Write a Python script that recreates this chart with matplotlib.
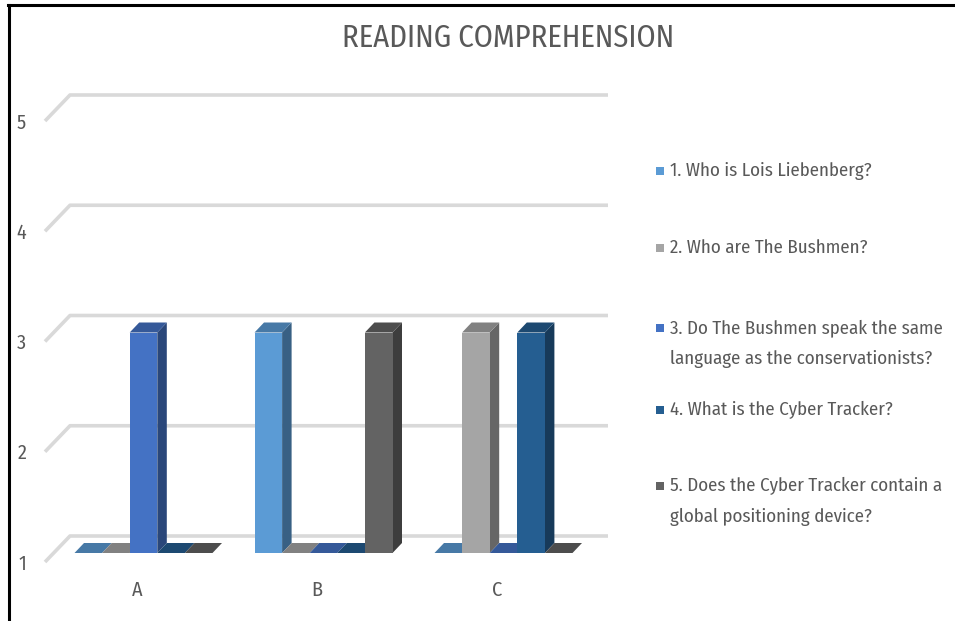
import matplotlib
matplotlib.use("Agg")
import matplotlib.pyplot as plt
from matplotlib.patches import Polygon, Rectangle
from matplotlib.lines import Line2D
from matplotlib import font_manager
import numpy as np

# ---- data -------------------------------------------------------------
categories = ["A", "B", "C"]
series_names = [
    "1. Who is Lois Liebenberg?",
    "2. Who are The Bushmen?",
    "3. Do The Bushmen speak the same\nlanguage as the conservationists?",
    "4. What is the Cyber Tracker?",
    "5. Does the Cyber Tracker contain a\nglobal positioning device?",
]
q1_scores = [1, 3, 1]
q2_scores = [1, 1, 3]
q3_scores = [3, 1, 1]
q4_scores = [1, 1, 3]
q5_scores = [1, 3, 1]
y_ticks = [1, 2, 3, 4, 5]

series_values = [q1_scores, q2_scores, q3_scores, q4_scores, q5_scores]
series_colors = ["#5B9BD5", "#A5A5A5", "#4472C4", "#255E91", "#636363"]

# ---- fonts ------------------------------------------------------------
available = {f.name for f in font_manager.fontManager.ttflist}
main_font = "DejaVu Sans"
for cand in ["Fira Sans Condensed", "PT Sans Narrow", "Roboto Condensed", "Carlito"]:
    if cand in available:
        main_font = cand
        break
plt.rcParams["font.family"] = [main_font, "DejaVu Sans"]
text_color = "#595959"

# ---- figure / axes ----------------------------------------------------
W, H = 955, 621
fig = plt.figure(figsize=(W / 100, H / 100), dpi=100)
ax_left, ax_right, ax_top, ax_bottom = 40, 615, 85, 575
ax = fig.add_axes([ax_left / W, 1 - ax_bottom / H,
                   (ax_right - ax_left) / W, (ax_bottom - ax_top) / H])

group_px = 180.0      # pixels between category groups
unit_px = 110.25      # pixels per score unit on the front plane
x0_px = 143.5         # pixel of first group centre
floor_px = 562        # pixel of value 1 on the front plane
ax.set_xlim((ax_left - x0_px) / group_px, (ax_right - x0_px) / group_px)
ax.set_ylim(1 - (ax_bottom - floor_px) / unit_px, 1 + (floor_px - ax_top) / unit_px)

def dx(px):
    return px / group_px

def dy(px):
    return px / unit_px

base = y_ticks[0]

# ---- walls: gridlines with perspective ---------------------------------
wall_x = dx(45 - x0_px)
wall_end = dx(608 - x0_px)
back_dx, back_dy = dx(25), dy(26)
grid_col = "#D9D9D9"
for v in y_ticks:
    ax.plot([wall_x, wall_x + back_dx, wall_end], [v, v + back_dy, v + back_dy],
            color=grid_col, lw=2.6, solid_capstyle="butt", zorder=1)

# ---- bars -------------------------------------------------------------
def shade(hex_color, f):
    rgb = np.array(matplotlib.colors.to_rgb(hex_color))
    return tuple(np.clip(rgb * f, 0, 1))

n_series = len(series_values)
bar_w = dx(27.6)
lift = dy(9)                   # front face sits slightly behind the front plane
side_dx, side_dy = dx(9.5), dy(10)
x_idx = np.arange(len(categories))

z = 2
for i in x_idx:
    for j, vals in enumerate(series_values):
        v = vals[i]
        xc = i + (j - (n_series - 1) / 2) * bar_w
        xl, xr = xc - bar_w / 2, xc + bar_w / 2
        yb, yt = base + lift, v + lift
        col = series_colors[j]
        # right side face
        ax.add_patch(Polygon([(xr, yb), (xr + side_dx, yb + side_dy),
                              (xr + side_dx, yt + side_dy), (xr, yt)],
                             closed=True, facecolor=shade(col, 0.62),
                             edgecolor="none", zorder=z))
        # top face
        ax.add_patch(Polygon([(xl, yt), (xr, yt), (xr + side_dx, yt + side_dy),
                              (xl + side_dx, yt + side_dy)],
                             closed=True, facecolor=shade(col, 0.78),
                             edgecolor="none", zorder=z))
        # front face
        ax.bar(xc, v - base, bottom=yb, width=bar_w, color=col,
               edgecolor="none", zorder=z + 0.5)
        z += 1

# ---- ticks ------------------------------------------------------------
for s in ax.spines.values():
    s.set_visible(False)
ax.set_yticks(y_ticks)
ax.set_yticklabels([str(t) for t in y_ticks])
ax.set_xticks(x_idx - 0.035)
ax.set_xticklabels(categories)
ax.tick_params(axis="both", length=0, labelsize=14.5, colors=text_color)
ax.tick_params(axis="y", pad=10)
ax.tick_params(axis="x", pad=4)
ax.set_facecolor("none")

# ---- title ------------------------------------------------------------
fig.text(508 / W, 1 - 38 / H, "READING COMPREHENSION", ha="center", va="center",
         fontsize=22, color=text_color)

# ---- legend -----------------------------------------------------------
legend_y = [171, 248, 328, 410, 486]
for name, col, ly in zip(series_names, series_colors, legend_y):
    fig.patches.append(Rectangle((656 / W, 1 - (ly + 4) / H), 8 / W, 8 / H,
                                 transform=fig.transFigure, facecolor=col,
                                 edgecolor="none"))
    fig.text(670 / W, 1 - (ly - 9) / H, name, ha="left", va="top",
             fontsize=13.6, color=text_color, linespacing=1.92)

# ---- frame lines (top and left) ---------------------------------------
fig.add_artist(Line2D([8 / W, 1], [1 - 5 / H, 1 - 5 / H], transform=fig.transFigure,
                      color="black", lw=2.2))
fig.add_artist(Line2D([9 / W, 9 / W], [0, 1 - 5 / H], transform=fig.transFigure,
                      color="black", lw=2.2))

fig.savefig("out.png", dpi=100, facecolor="white")
